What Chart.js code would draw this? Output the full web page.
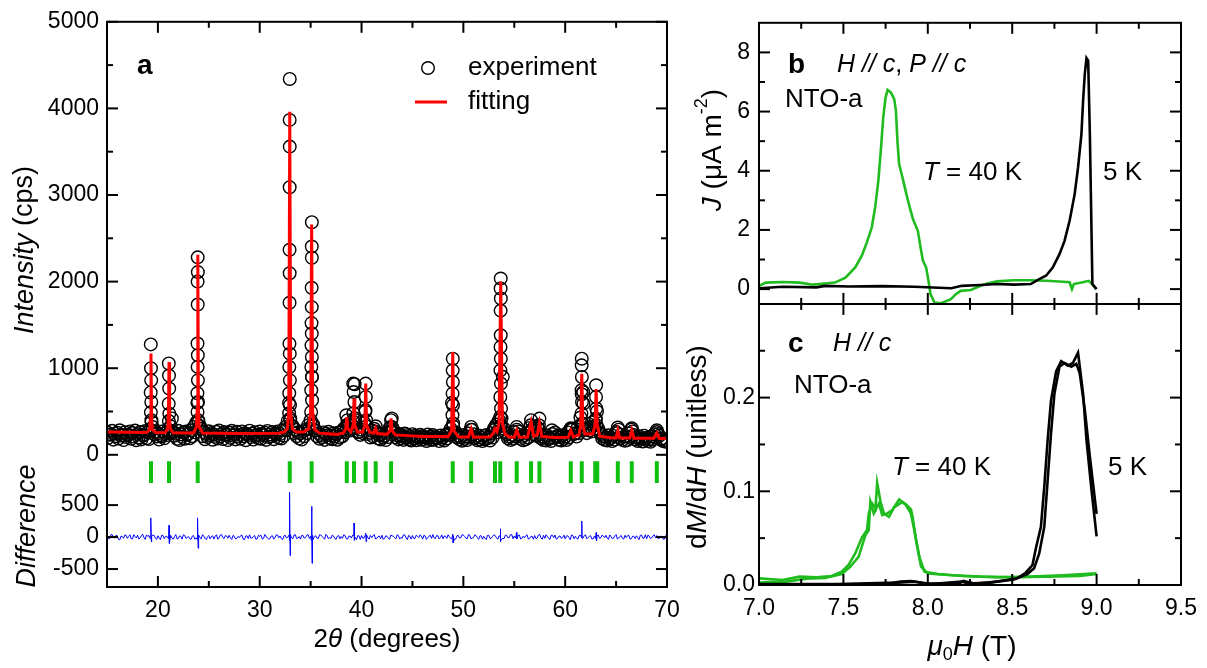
<!DOCTYPE html>
<html>
<head>
<meta charset="utf-8">
<script src="https://cdn.jsdelivr.net/npm/chart.js@4.4.1/dist/chart.umd.min.js"></script>
<style>
  html, body { margin: 0; padding: 0; background: #fff; }
  #wrap { position: relative; width: 1207px; height: 668px; overflow: hidden; }
  canvas { position: absolute; top: 0; }
  #xrd { left: 0; }
  #mag { left: 660px; }
</style>
</head>
<body>
<div id="wrap">
  <canvas id="xrd" width="700" height="668"></canvas>
  <canvas id="mag" width="547" height="668"></canvas>
</div>
<script>
const FONT = '"Liberation Sans", Arial, Helvetica, sans-serif';

// ---- panel a : powder XRD ----
const angleStart = 15;
const angleStep = 0.25;
// background counts, one every 0.25 deg from 15 to 70
const expBackground = [
  262, 231, 278, 244,  255, 283, 228, 260,  229, 270, 251, 280,  240, 262, 225, 274,
  258, 290, 320, 265,  248, 226, 271, 252,  290, 330, 262, 243,  277, 236, 259, 268,
  245, 283, 320, 370,  380, 300, 262, 241,  272, 252, 233, 266,  281, 240, 262, 229,
  257, 278, 238, 266,  231, 270, 250, 240,  279, 244, 261, 232,  268, 240, 255, 276,
  235, 262, 246, 270,  241, 283, 320, 390,  420, 330, 290, 260,  248, 270, 290, 340,
  400, 350, 280, 250,  228, 258, 242, 266,  224, 250, 236, 258,  262, 300, 330, 340,
  350, 380, 310, 265,  290, 370, 330, 262,  280, 300, 248, 230,  242, 220, 254, 310,
  320, 250, 225, 240,  218, 246, 230, 212,  238, 220, 205, 231,  216, 200, 234, 210,
  228, 206, 194, 222,  205, 228, 250, 300,  330, 260, 222, 202,  228, 212, 245, 290,
  236, 206, 222, 196,  218, 230, 204, 250,  300, 350, 400, 420,  300, 240, 212, 230,
  262, 290, 232, 208,  226, 250, 310, 280,  330, 320, 238, 212,  200, 222, 196, 240,
  258, 218, 202, 225,  210, 258, 290, 300,  250, 320, 430, 350,  290, 360, 320, 380,
  400, 300, 240, 215,  204, 226, 195, 218,  262, 290, 232, 208,  214, 248, 290, 228,
  200, 214, 190, 221,  198, 180, 214, 238,  262, 220, 190, 172,  168
];
// second set of background counts, shifted by half a step (15.125, 15.375, ...)
const expBackgroundMid = [
  196, 238, 175, 214,  188, 222, 170, 205,  232, 184, 210, 168,  201, 178, 226, 190,
  182, 380, 240, 212,  176, 215, 190, 228,  250, 420, 220, 185,  170, 208, 186, 230,
  192, 214, 260, 600,  330, 215, 180, 204,  226, 174, 208, 188,  212, 182, 236, 170,
  196, 222, 178, 210,  184, 214, 168, 228,  204, 176, 218, 190,  186, 226, 172, 205,
  214, 180, 232, 196,  188, 220, 290, 600,  330, 250, 215, 190,  176, 214, 250, 300,
  900, 280, 215, 184,  206, 172, 224, 190,  180, 210, 174, 198,  214, 260, 350, 280,
  300, 400, 260, 230,  250, 500, 240, 200,  215, 270, 190, 176,  198, 170, 205, 270,
  290, 200, 178, 194,  172, 200, 180, 166,  190, 168, 196, 174,  182, 160, 194, 170,
  176, 190, 158, 184,  166, 188, 230, 600,  250, 200, 180, 162,  184, 170, 200, 290,
  190, 168, 176, 158,  178, 190, 166, 200,  290, 260, 330, 900,  260, 190, 170, 186,
  210, 270, 185, 168,  180, 200, 280, 240,  220, 300, 190, 170,  164, 182, 160, 196,
  210, 172, 166, 184,  170, 200, 290, 240,  210, 250, 700, 300,  250, 280, 270, 300,
  500, 260, 190, 172,  166, 184, 158, 176,  250, 190, 172, 162,  170, 196, 270, 180,
  160, 176, 154, 182,  158, 150, 176, 196,  240, 176, 158, 150
];
// points climbing the Bragg peaks [2theta, counts]
const expPeaks = [
  [19.30,1275],[19.32,1000],[19.34,860],[19.29,720],[19.35,610],[19.31,490],[19.36,400],
  [21.07,1055],[21.09,915],[21.11,765],[21.06,590],[21.12,475],[21.08,390],
  [23.91,2280],[23.92,2110],[23.90,2000],[23.91,1735],[23.89,1285],[23.92,1150],[23.90,1015],
  [23.93,860],[23.88,710],[23.94,610],[23.89,495],[23.95,400],
  [32.95,4340],[32.94,3867],[32.95,3559],[32.94,3090],[32.93,2367],[32.94,2097],[32.93,1756],
  [32.92,1283],[32.95,1168],[32.91,1014],[32.96,860],[32.90,710],[32.97,572],[32.89,480],[32.99,400],
  [35.12,2686],[35.11,2405],[35.12,2275],[35.10,1929],[35.11,1705],[35.09,1521],[35.11,1400],
  [35.08,1264],[35.12,1129],[35.07,1014],[35.13,898],[35.06,745],[35.14,630],[35.05,495],[35.16,341],
  [38.50,457],[38.62,400],
  [39.18,822],[39.32,815],[39.22,725],[39.30,610],[39.20,480],[39.34,422],
  [40.40,822],[40.42,668],[40.38,514],[40.45,400],
  [41.39,330],
  [42.90,400],[42.97,420],[42.85,322],
  [48.96,1110],[48.95,975],[48.97,840],[48.94,707],[48.98,572],[48.93,457],[49.00,361],
  [50.76,322],
  [53.11,322],
  [53.67,2035],[53.66,1920],[53.68,1805],[53.66,1665],[53.67,1380],[53.65,1245],[53.68,1110],
  [53.64,975],[53.69,822],[53.63,668],[53.70,534],[53.62,437],[53.72,341],
  [55.24,322],
  [56.65,400],[56.60,340],
  [57.47,418],[57.42,341],
  [58.70,283],
  [60.55,306],
  [61.63,1110],[61.62,1033],[61.64,898],[61.61,745],[61.65,610],[61.60,476],[61.67,361],[61.78,725],[61.80,591],
  [63.04,803],[63.03,668],[63.05,534],[63.02,418],[63.07,341],
  [65.17,315],
  [66.54,306],
  [69.00,283]
];
const fitCurve = [
  [15,264],[17,260],[18.9,258],[19.18,290],[19.26,420],[19.32,1170],[19.38,420],[19.46,290],[19.8,257],
  [20.7,255],[20.96,300],[21.03,420],[21.09,1070],[21.15,420],[21.22,300],[21.5,254],
  [23.5,252],[23.78,320],[23.86,520],[23.92,2310],[23.98,520],[24.06,320],[24.4,252],
  [28,247],[31.8,248],[32.4,262],[32.7,300],[32.85,480],[32.95,3960],[33.05,480],[33.2,300],[33.6,262],
  [34.3,262],[34.8,300],[35.0,500],[35.1,2660],[35.2,500],[35.4,290],[35.9,250],
  [37.5,236],[38.2,250],[38.45,300],[38.55,434],[38.65,300],[38.95,268],[39.18,340],[39.26,649],[39.34,340],[39.6,262],
  [40.1,262],[40.32,340],[40.41,822],[40.5,340],[40.8,262],[41.2,250],[41.39,307],[41.55,245],
  [42.5,236],[42.8,280],[42.9,422],[43.0,280],[43.3,230],
  [46,212],[48.5,210],[48.85,280],[48.96,1187],[49.07,280],[49.5,207],
  [50.5,205],[50.76,300],[51.0,204],
  [52.6,206],[52.95,250],[53.11,300],[53.3,270],[53.5,360],[53.67,2000],[53.84,360],[54.1,240],[54.5,205],
  [55.0,203],[55.24,283],[55.5,202],
  [56.3,205],[56.65,380],[56.9,215],[57.25,230],[57.47,364],[57.7,212],
  [59,200],[60.3,202],[60.55,283],[60.8,205],[61.35,230],[61.52,340],[61.63,937],[61.74,340],[61.95,240],
  [62.7,240],[62.93,340],[63.04,760],[63.15,340],[63.4,215],[64.5,196],
  [65.0,195],[65.17,283],[65.35,194],
  [66.35,193],[66.54,283],[66.75,192],
  [68.7,190],[69.0,250],[69.25,189],[70,188]
];
const braggPositions = [19.32, 21.09, 23.91, 32.95, 35.1, 38.55, 39.26, 40.41, 41.39, 42.9,
  48.96, 50.76, 53.11, 53.62, 55.24, 56.65, 57.47, 60.55, 61.63, 62.95, 63.15, 65.17, 66.54, 69.0];
const braggSpan = [-75, -325];
// observed minus calculated, one every 0.25 deg
const diffNoise = [
  16, -28, 40, -12,  24, -44, 10, 32,  -20, 36, -30, 8,  28, -12, 44, -36,
  12, -24, 30, -16,  20, -40, 24, 8,  -16, 28, -32, 40,  -24, 12, 36, -20,
  8, -36, 24, -12,  32, -28, 16, -40,  24, 6, -32, 36,  -12, 40, -24, 16,
  28, -36, 12, -20,  -8, 32, -40, 20,  36, -16, 24, -28,  12, -32, 40, -8,
  -24, 20, -12, 32,  16, -40, 28, -4,  20, -28, 36, -16,  -32, 24, -8, 40,
  12, -36, 20, -24,  32, -12, 44, -28,  -20, 16, -36, 24,  8, 36, -24, 12,
  -16, 28, -40, 20,  24, -12, 32, -32,  -8, 40, -20, 16,  28, -24, 12, -36,
  20, -8, 36, -28,  -16, 32, -40, 12,  24, -20, 8, 36,  -32, 16, -12, 28,
  40, -24, 20, -8,  -28, 12, 36, -20,  16, -32, 24, -12,  32, -16, 40, -28,
  -8, 24, -36, 20,  12, -40, 28, -16,  36, -12, 20, -32,  -24, 28, -8, 40,
  16, -28, 32, -20,  -12, 36, -24, 12,  24, -16, 40, -32,  -20, 8, -36, 28,
  32, -24, 16, -8,  -28, 20, -40, 24,  12, -32, 28, -16,  36, -8, 20, -28,
  -24, 32, -12, 16,  28, -36, 8, -20,  40, -16, 24, -32,  -8, 28, -24, 12,
  20, -40, 32, -16,  -28, 16, -12, 36,  24, -20, 8, -32,  12
];
// observed minus calculated at the half steps (15.125, 15.375, ...)
const diffNoiseMid = [
  -22, 34, -8, 26,  -36, 14, -18, 30,  10, -26, 38, -14,  -30, 20, -6, 34,
  24, -10, 28, -38,  -14, 30, -24, 12,  36, -18, 8, -28,  18, -32, 26, -6,
  -26, 14, -34, 22,  -10, 38, -20, 6,  -28, 20, 12, -34,  30, -8, 24, -18,
  -14, 26, -30, 10,  22, -34, 16, -24,  -18, 8, -36, 30,  28, -20, 6, -34,
  14, -30, 36, -10,  -26, 18, -14, 32,  -12, 34, -24, 8,  26, -16, 30, -22,
  -30, 12, -18, 36,  10, -34, 20, -8,  32, -22, 14, -28,  -18, 24, -32, 16,
  30, -6, 22, -36,  -20, 34, -12, 26,  18, -30, 8, -24,  -34, 20, -16, 30,
  12, -28, 24, -10,  36, -14, 26, -32,  -22, 30, -10, 18,  28, -36, 14, -20,
  -12, 24, -30, 34,  16, -20, 6, -28,  -30, 22, -14, 36,  8, -26, 30, -16,
  34, -10, 20, -32,  -18, 28, -24, 12,  24, -34, 10, -20,  30, -12, 36, -26,
  -16, 22, -30, 14,  20, -28, 8, -34,  -24, 32, -14, 26,  36, -20, 28, -10,
  -32, 14, -22, 30,  18, -8, 34, -26,  -20, 26, -12, 22,  -28, 12, -30, 16,
  24, -18, 30, -12,  -16, 34, -26, 20,  -30, 10, -20, 28,  22, -32, 14, -24,
  -10, 26, -18, 36,  30, -24, 20, -14,  -22, 16, -34, 24
];
const diffSpikes = [
  [19.28,-30],[19.32,300],[19.36,-75],[19.40,10],
  [21.05,-20],[21.09,185],[21.13,-100],
  [23.87,-40],[23.91,300],[23.95,-175],
  [32.91,-60],[32.95,700],[32.99,-290],[33.03,40],
  [35.06,-50],[35.10,480],[35.14,-410],[35.18,30],
  [39.26,220],[39.30,-50],
  [40.41,60],[40.45,-70],
  [48.96,45],[49.00,-90],
  [53.63,130],[53.67,-70],
  [55.24,70],[55.28,-20],
  [61.63,250],[61.67,-20],
  [63.04,70],[63.08,-60]
];
const angleTicks = [15, 20, 25, 30, 35, 40, 45, 50, 55, 60, 65, 70];
const angleMajor = [20, 30, 40, 50, 60, 70];
const intensityTicks = [0, 500, 1000, 1500, 2000, 2500, 3000, 3500, 4000, 4500, 5000];
const intensityMajor = [0, 1000, 2000, 3000, 4000, 5000];
const diffTicks = [-500, 0, 500];

// ---- panels b and c : field sweeps ----
const fieldTicks = [7, 7.25, 7.5, 7.75, 8, 8.25, 8.5, 8.75, 9, 9.25, 9.5];
const fieldMajor = [7, 7.5, 8, 8.5, 9, 9.5];
const currentTicks = [0, 1, 2, 3, 4, 5, 6, 7, 8];
const currentMajor = [0, 2, 4, 6, 8];
const dmdhTicks = [0, 0.05, 0.1, 0.15, 0.2, 0.25];
const dmdhMajor = [0, 0.1, 0.2];

const current40K = [
  [7.0,0.11],[7.04,0.22],[7.14,0.24],[7.24,0.22],[7.32,0.15],[7.39,0.19],[7.45,0.22],[7.512,0.39],
  [7.57,0.73],[7.609,1.13],[7.639,1.58],[7.668,2.08],[7.688,2.76],[7.707,3.66],[7.723,4.79],[7.736,5.80],
  [7.75,6.48],[7.762,6.73],[7.781,6.65],[7.801,6.42],[7.811,6.03],[7.82,5.01],[7.83,4.23],[7.85,3.77],
  [7.873,3.21],[7.893,2.76],[7.912,2.37],[7.941,1.97],[7.957,1.41],[7.971,0.96],[7.99,0.73],[8.004,0.28],
  [8.016,-0.17],[8.039,-0.45],[8.078,-0.48],[8.137,-0.34],[8.166,-0.17],[8.195,-0.06],[8.254,-0.03],
  [8.313,0.11],[8.352,0.19],[8.41,0.26],[8.508,0.30],[8.605,0.30],[8.703,0.28],[8.801,0.25],[8.84,0.23],
  [8.854,0.0],[8.865,0.17],[8.918,0.23],[8.953,0.28],[8.977,0.15],[8.996,0.0]
];
const current5K = [
  [7.0,0.03],[7.14,0.08],[7.34,0.06],[7.39,0.11],[7.53,0.09],[7.73,0.10],[7.92,0.08],[8.14,0.03],
  [8.20,0.11],[8.31,0.14],[8.41,0.17],[8.51,0.15],[8.61,0.17],[8.66,0.34],[8.70,0.45],[8.74,0.73],
  [8.78,1.18],[8.81,1.63],[8.84,2.31],[8.87,3.21],[8.89,4.11],[8.91,5.24],[8.92,6.37],[8.93,7.27],
  [8.94,7.81],[8.95,7.72],[8.96,5.24],[8.97,1.86],[8.975,0.17],[9.0,0.0]
];
const dmdh40Kup = [
  [7.0,0.0071],[7.14,0.0053],[7.24,0.0089],[7.34,0.0082],[7.43,0.0096],[7.49,0.0142],[7.53,0.0213],
  [7.57,0.0337],[7.61,0.0508],[7.64,0.0586],[7.65,0.0764],[7.67,0.087],[7.69,0.0817],[7.70,0.109],
  [7.72,0.0888],[7.74,0.0764],[7.77,0.0728],[7.80,0.0828],[7.85,0.0888],[7.87,0.0863],[7.90,0.0806],
  [7.91,0.0728],[7.93,0.048],[7.96,0.0195],[8.0,0.0124],[8.12,0.0107],[8.31,0.0089],[8.51,0.0082],
  [8.70,0.0089],[8.90,0.0096],[9.0,0.0117]
];
const dmdh40Kdown = [
  [7.0,0.0025],[7.16,0.0036],[7.28,0.0067],[7.39,0.0075],[7.49,0.0117],[7.54,0.0195],[7.59,0.030],
  [7.63,0.053],[7.65,0.0586],[7.66,0.0888],[7.68,0.0764],[7.71,0.087],[7.73,0.0746],[7.76,0.0764],
  [7.79,0.080],[7.83,0.0913],[7.87,0.0853],[7.90,0.0764],[7.92,0.0586],[7.95,0.030],[7.98,0.0142],
  [8.06,0.0117],[8.21,0.0096],[8.41,0.0082],[8.61,0.0089],[8.80,0.0103],[9.0,0.0124]
];
const dmdh5Kup = [
  [7.0,0.001],[7.43,0.0007],[7.75,0.001],[7.84,0.0036],[7.90,0.0043],[7.98,0.0018],[8.18,0.001],
  [8.21,0.0043],[8.27,0.0018],[8.37,0.0025],[8.47,0.0053],[8.53,0.0071],[8.58,0.0131],[8.62,0.0213],
  [8.64,0.039],[8.67,0.062],[8.69,0.105],[8.71,0.155],[8.73,0.197],[8.76,0.228],[8.79,0.239],
  [8.83,0.234],[8.86,0.237],[8.89,0.248],[8.92,0.204],[8.94,0.155],[8.97,0.101],[9.0,0.052]
];
const dmdh5Kdown = [
  [7.0,0.0007],[7.47,0.001],[7.82,0.0025],[7.92,0.0036],[8.02,0.001],[8.20,0.0036],[8.26,0.001],
  [8.41,0.0036],[8.51,0.006],[8.59,0.0117],[8.63,0.0178],[8.66,0.0337],[8.69,0.062],[8.71,0.112],
  [8.73,0.162],[8.75,0.204],[8.78,0.233],[8.81,0.237],[8.85,0.233],[8.88,0.236],[8.90,0.226],
  [8.93,0.187],[8.96,0.137],[9.0,0.076]
];

const GREEN = '#1fbb1f';
const pts = arr => arr.map(([x, y]) => ({ x, y }));
const onGrid = (arr, start) => arr.map((v, i) => ({ x: start + i * angleStep, y: v }));

// mixed-style text (italic / bold / sub / sup pieces)
function drawRich(ctx, parts, x, y, size, align, rotate) {
  const fontFor = (f, sz) => (f.includes('i') ? 'italic ' : '') + (f.includes('b') ? 'bold ' : '') + sz + 'px ' + FONT;
  ctx.save();
  ctx.translate(x, y);
  if (rotate) ctx.rotate(-Math.PI / 2);
  let w = 0;
  const items = parts.map(([t, st]) => {
    const f = (st || '').split(' ');
    const small = f.includes('sub') || f.includes('sup');
    const sz = small ? Math.round(size * 0.65) : size;
    ctx.font = fontFor(f, sz);
    const tw = ctx.measureText(t).width;
    w += tw;
    return { t, f, sz, tw };
  });
  let cx = align === 'center' ? -w / 2 : 0;
  ctx.textAlign = 'left';
  ctx.textBaseline = 'middle';
  ctx.fillStyle = '#000';
  items.forEach(it => {
    ctx.font = fontFor(it.f, it.sz);
    let dy = 0;
    if (it.f.includes('sub')) dy = size * 0.3;
    if (it.f.includes('sup')) dy = -size * 0.38;
    ctx.fillText(it.t, cx, dy);
    cx += it.tw;
  });
  ctx.restore();
}

// box frame with inward ticks on all four sides
const frameTicks = {
  id: 'frameTicks',
  afterDatasetsDraw(chart) {
    const ctx = chart.ctx, a = chart.chartArea;
    const line = (x1, y1, x2, y2) => { ctx.beginPath(); ctx.moveTo(x1, y1); ctx.lineTo(x2, y2); ctx.stroke(); };
    ctx.save();
    ctx.strokeStyle = '#000';
    ctx.lineWidth = 2;
    ctx.lineCap = 'butt';
    const ys = Object.values(chart.scales).filter(s => s.axis === 'y');
    const xs = chart.scales.x;
    const split = chart.options.plugins.frameTicks.split;
    const edges = [[a.top, 1], [a.bottom, -1]];
    if (split) {
      const yb = chart.scales[split].bottom;
      line(a.left, yb, a.right, yb);
      edges.push([yb, -1], [yb, 1]);
    }
    xs.ticks.forEach(t => {
      const px = xs.getPixelForValue(t.value);
      const len = t.major ? 11 : 6;
      edges.forEach(([ey, dir]) => line(px, ey, px, ey + dir * len));
    });
    ys.forEach(s => {
      s.ticks.forEach(t => {
        const py = s.getPixelForValue(t.value);
        if (py < s.top - 1 || py > s.bottom + 1) return;
        const len = t.major ? 11 : 6;
        line(a.left, py, a.left + len, py);
        line(a.right, py, a.right - len, py);
      });
    });
    ctx.strokeRect(a.left, a.top, a.right - a.left, a.bottom - a.top);
    ctx.restore();
  }
};

function axis(values, majors, fmt, padding, extra) {
  return Object.assign({
    type: 'linear',
    afterBuildTicks: s => { s.ticks = values.map(v => ({ value: v, major: majors.includes(v) })); },
    ticks: {
      autoSkip: false, maxRotation: 0, padding,
      font: { family: FONT, size: 23 }, color: '#000',
      callback: (v, i, t) => (t[i].major ? fmt(v) : '')
    },
    grid: { display: false, drawTicks: false },
    border: { display: false }
  }, extra);
}

const common = {
  responsive: false,
  animation: false,
  events: [],
  elements: { line: { tension: 0 } }
};

// ---------------- panel a ----------------
const expData = onGrid(expBackground, angleStart)
  .concat(onGrid(expBackgroundMid, angleStart + angleStep / 2))
  .concat(pts(expPeaks));
const diffData = onGrid(diffNoise, angleStart)
  .concat(onGrid(diffNoiseMid, angleStart + angleStep / 2))
  .concat(pts(diffSpikes)).sort((p, q) => p.x - q.x);
const braggData = braggPositions.flatMap(p => [{ x: p, y: braggSpan[0] }, { x: p, y: braggSpan[1] }, { x: p, y: null }]);

new Chart(document.getElementById('xrd'), {
  type: 'scatter',
  data: {
    datasets: [
      { type: 'line', label: 'fitting', data: pts(fitCurve), yAxisID: 'y', borderColor: '#ff0000', borderWidth: 3, pointRadius: 0 },
      { label: 'experiment', data: expData, yAxisID: 'y', showLine: false, pointStyle: 'circle', pointRadius: 6.3,
        pointBorderColor: '#000', pointBackgroundColor: 'rgba(0,0,0,0)', pointBorderWidth: 1.4 },
      { type: 'line', label: 'bragg', data: braggData, yAxisID: 'y', borderColor: '#10c010', borderWidth: 4,
        pointRadius: 0, spanGaps: false, borderCapStyle: 'butt' },
      { type: 'line', label: 'difference', data: diffData, yAxisID: 'yd', borderColor: '#0000ff', borderWidth: 1, pointRadius: 0 }
    ]
  },
  options: Object.assign({}, common, {
    layout: { padding: { top: 21, right: 33, left: 0, bottom: 0 } },
    scales: {
      x: axis(angleTicks, angleMajor, String, 10, { min: 15, max: 70, afterFit: s => { s.height = 81; } }),
      y: axis(intensityTicks, intensityMajor, String, 8, {
        position: 'left', stack: 'a', stackWeight: 469, weight: 2, min: -408, max: 5000,
        afterFit: s => { s.width = 107; } }),
      yd: axis(diffTicks, diffTicks, String, 8, {
        position: 'left', stack: 'a', stackWeight: 97, weight: 1, min: -781, max: 734,
        afterFit: s => { s.width = 107; } })
    },
    plugins: { legend: { display: false }, tooltip: { enabled: false }, frameTicks: { split: null } }
  }),
  plugins: [frameTicks, {
    id: 'labelsA',
    afterDraw(chart) {
      const ctx = chart.ctx;
      drawRich(ctx, [['a', 'b']], 137, 66, 28, 'left');
      // legend
      ctx.save();
      ctx.strokeStyle = '#000'; ctx.lineWidth = 1.4;
      ctx.beginPath(); ctx.arc(428, 68, 6.3, 0, Math.PI * 2); ctx.stroke();
      ctx.strokeStyle = '#ff0000'; ctx.lineWidth = 3;
      ctx.beginPath(); ctx.moveTo(415, 102); ctx.lineTo(447, 102); ctx.stroke();
      ctx.restore();
      drawRich(ctx, [['experiment', '']], 468, 68, 26, 'left');
      drawRich(ctx, [['fitting', '']], 468, 102, 26, 'left');
      drawRich(ctx, [['Intensity', 'i'], [' (cps)', '']], 25, 250, 27, 'center', true);
      drawRich(ctx, [['Difference', 'i']], 27, 526, 27, 'center', true);
      drawRich(ctx, [['2', ''], ['\u03b8', 'i'], [' (degrees)', '']], 387, 640, 26, 'center');
    }
  }]
});

// ---------------- panels b and c ----------------
const line = (data, color, yAxisID) => ({ type: 'line', data: pts(data), yAxisID, borderColor: color, borderWidth: 2.6, pointRadius: 0 });
const OX = 660; // page offset of this canvas

new Chart(document.getElementById('mag'), {
  type: 'scatter',
  data: {
    datasets: [
      line(current5K, '#000', 'yb'),
      line(current40K, GREEN, 'yb'),
      line(dmdh5Kup, '#000', 'yc'),
      line(dmdh5Kdown, '#000', 'yc'),
      line(dmdh40Kup, GREEN, 'yc'),
      line(dmdh40Kdown, GREEN, 'yc')
    ]
  },
  options: Object.assign({}, common, {
    layout: { padding: { top: 22, right: 22, left: 0, bottom: 0 } },
    scales: {
      x: axis(fieldTicks, fieldMajor, v => v.toFixed(1), 10, { min: 7, max: 9.5, afterFit: s => { s.height = 83; } }),
      yb: axis(currentTicks, currentMajor, String, 9, {
        position: 'left', stack: 'bc', stackWeight: 1, weight: 2, min: -0.5, max: 9,
        afterFit: s => { s.width = 99; } }),
      yc: axis(dmdhTicks, dmdhMajor, v => v.toFixed(1), 4, {
        position: 'left', stack: 'bc', stackWeight: 1, weight: 1, min: 0, max: 0.3,
        afterFit: s => { s.width = 99; } })
    },
    plugins: { legend: { display: false }, tooltip: { enabled: false }, frameTicks: { split: 'yb' } }
  }),
  plugins: [frameTicks, {
    id: 'labelsBC',
    afterDraw(chart) {
      const ctx = chart.ctx;
      drawRich(ctx, [['b', 'b']], 788 - OX, 65, 28, 'left');
      drawRich(ctx, [['H // c', 'i'], [', ', ''], ['P // c', 'i']], 837 - OX, 65, 25, 'left');
      drawRich(ctx, [['NTO-a', '']], 785 - OX, 100, 26, 'left');
      drawRich(ctx, [['T', 'i'], [' = 40 K', '']], 923 - OX, 173, 26, 'left');
      drawRich(ctx, [['5 K', '']], 1103 - OX, 173, 26, 'left');
      drawRich(ctx, [['c', 'b']], 788 - OX, 344, 28, 'left');
      drawRich(ctx, [['H // c', 'i']], 833 - OX, 344, 25, 'left');
      drawRich(ctx, [['NTO-a', '']], 794 - OX, 386, 26, 'left');
      drawRich(ctx, [['T', 'i'], [' = 40 K', '']], 892 - OX, 468, 26, 'left');
      drawRich(ctx, [['5 K', '']], 1108 - OX, 468, 26, 'left');
      drawRich(ctx, [['J', 'i'], [' (\u03bcA m', ''], ['-2', 'sup'], [')', '']], 713 - OX, 150, 28, 'center', true);
      drawRich(ctx, [['d', ''], ['M', 'i'], ['/d', ''], ['H', 'i'], [' (unitless)', '']], 698 - OX, 447, 28, 'center', true);
      drawRich(ctx, [['\u03bc', 'i'], ['0', 'sub'], ['H', 'i'], [' (T)', '']], 972 - OX, 647, 28, 'center');
    }
  }]
});
</script>
</body>
</html>
